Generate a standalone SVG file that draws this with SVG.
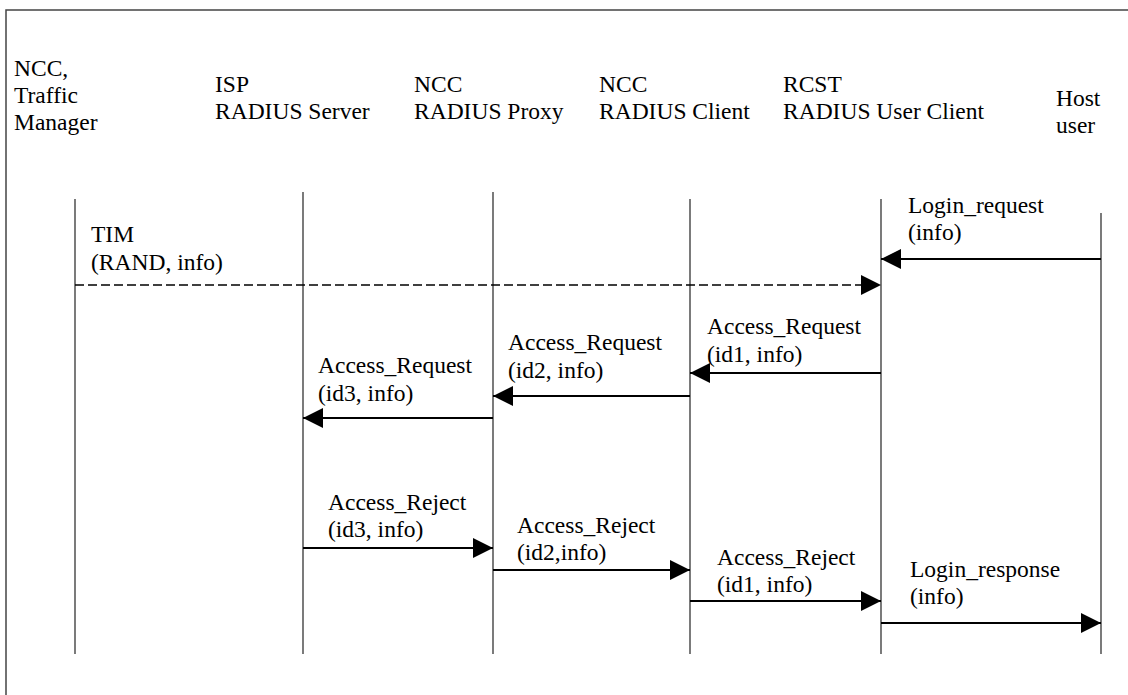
<svg xmlns="http://www.w3.org/2000/svg" width="1128" height="695" viewBox="0 0 1128 695">
<style>
  text { font-family: "Liberation Serif", "Times New Roman", serif; font-size: 23.5px; fill: #000; }
  .life { stroke: #333; stroke-width: 1.3; fill: none; }
  .msg { stroke: #000; stroke-width: 2; fill: none; marker-end: url(#arrow); }
  .dash { stroke-dasharray: 9 4; stroke-width: 1.6; }
  .frame { stroke: #444; stroke-width: 1.5; fill: none; }
</style>
<defs>
  <marker id="arrow" markerUnits="userSpaceOnUse" markerWidth="20" markerHeight="20" refX="20" refY="10" orient="auto">
    <path d="M0,0 L20,10 L0,20 Z" fill="#000"/>
  </marker>
</defs>
<rect width="1128" height="695" fill="#fff"/>
<path class="frame" d="M6,695 V10 H1128"/>

<g id="node-traffic-manager">
  <text x="14" y="76">NCC,</text>
  <text x="14" y="103">Traffic</text>
  <text x="14" y="130">Manager</text>
  <line class="life" x1="75" y1="199" x2="75" y2="654"/>
</g>
<g id="node-isp-radius-server">
  <text x="215" y="92">ISP</text>
  <text x="215" y="119">RADIUS Server</text>
  <line class="life" x1="303" y1="192" x2="303" y2="654"/>
</g>
<g id="node-ncc-radius-proxy">
  <text x="414" y="92">NCC</text>
  <text x="414" y="119">RADIUS Proxy</text>
  <line class="life" x1="493" y1="192" x2="493" y2="654"/>
</g>
<g id="node-ncc-radius-client">
  <text x="599" y="92">NCC</text>
  <text x="599" y="119">RADIUS Client</text>
  <line class="life" x1="690" y1="199" x2="690" y2="654"/>
</g>
<g id="node-rcst-radius-user-client">
  <text x="783" y="92">RCST</text>
  <text x="783" y="119">RADIUS User Client</text>
  <line class="life" x1="881" y1="199" x2="881" y2="654"/>
</g>
<g id="node-host-user">
  <text x="1056" y="106">Host</text>
  <text x="1056" y="133">user</text>
  <line class="life" x1="1101" y1="213" x2="1101" y2="654"/>
</g>

<g id="connectors">
  <line class="msg" x1="1101" y1="259" x2="881" y2="259"/>
  <line class="msg dash" x1="75" y1="285" x2="881" y2="285"/>
  <line class="msg" x1="881" y1="373" x2="690" y2="373"/>
  <line class="msg" x1="690" y1="396" x2="493" y2="396"/>
  <line class="msg" x1="493" y1="418" x2="303" y2="418"/>
  <line class="msg" x1="303" y1="548" x2="493" y2="548"/>
  <line class="msg" x1="493" y1="570" x2="690" y2="570"/>
  <line class="msg" x1="690" y1="601" x2="881" y2="601"/>
  <line class="msg" x1="881" y1="623" x2="1101" y2="623"/>

  <text x="908" y="213">Login_request</text>
  <text x="908" y="240">(info)</text>
  <text x="91" y="242">TIM</text>
  <text x="91" y="270">(RAND, info)</text>
  <text x="707" y="334">Access_Request</text>
  <text x="707" y="362">(id1, info)</text>
  <text x="508" y="350">Access_Request</text>
  <text x="508" y="378">(id2, info)</text>
  <text x="318" y="373">Access_Request</text>
  <text x="318" y="401">(id3, info)</text>
  <text x="328" y="510">Access_Reject</text>
  <text x="328" y="537">(id3, info)</text>
  <text x="517" y="533">Access_Reject</text>
  <text x="517" y="560">(id2,info)</text>
  <text x="717" y="565">Access_Reject</text>
  <text x="717" y="592">(id1, info)</text>
  <text x="910" y="577">Login_response</text>
  <text x="910" y="604">(info)</text>
</g>
</svg>
